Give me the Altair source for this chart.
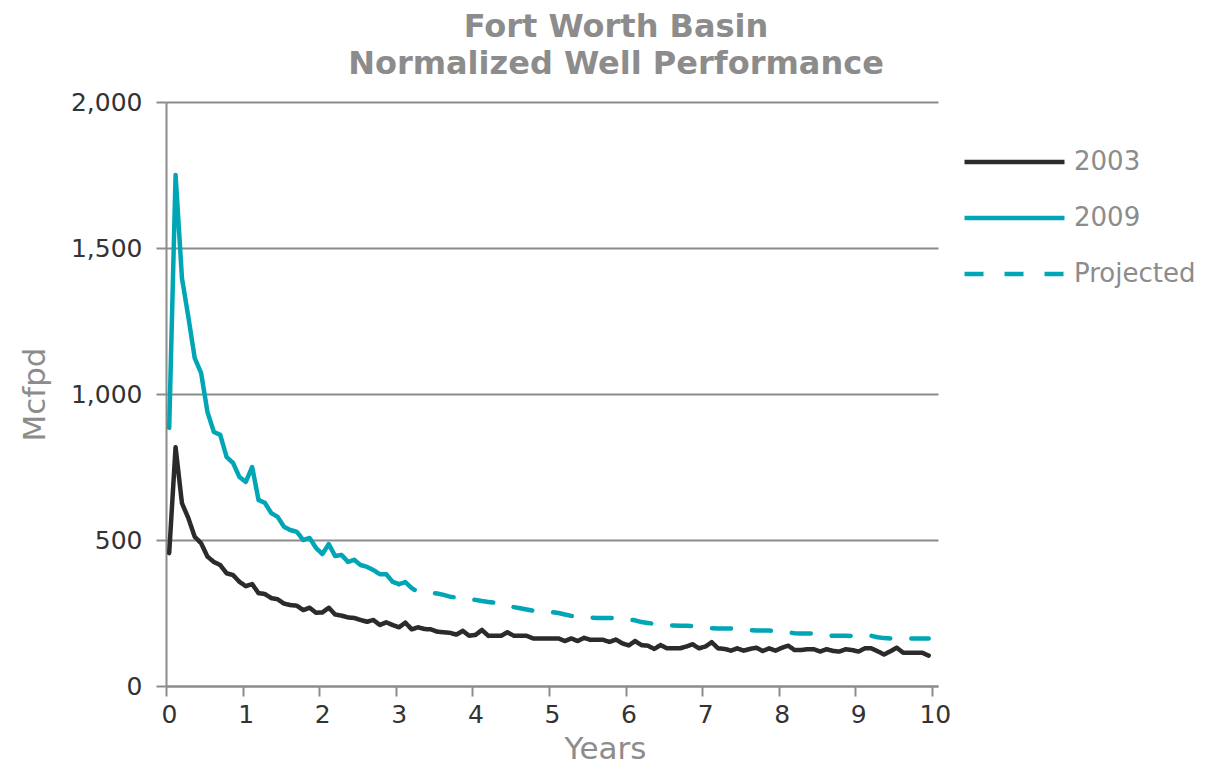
import altair as alt
import pandas as pd

# Monthly normalized production (Mcfpd), month k plotted at (k - 0.5) / 12 years
well_2003 = [
    455, 818, 626, 575, 511, 489, 443, 425, 414, 386, 380, 357,
    342, 349, 318, 315, 301, 297, 282, 277, 275, 260, 268, 251,
    252, 268, 245, 241, 235, 233, 226, 220, 226, 209, 218, 209,
    201, 217, 194, 201, 195, 194, 186, 184, 182, 176, 189, 172,
    175, 192, 172, 172, 172, 184, 172, 172, 172, 163, 163, 163,
    163, 163, 154, 163, 154, 165, 158, 158, 158, 151, 159, 146,
    139, 154, 140, 138, 127, 140, 129, 129, 129, 135, 143, 129,
    135, 150, 129, 127, 121, 129, 121, 127, 131, 120, 129, 121,
    131, 138, 123, 123, 126, 126, 118, 126, 120, 118, 126, 123,
    118, 129, 129, 119, 108, 119, 131, 114, 114, 114, 114, 104,
]

well_2009 = [
    884, 1750, 1397, 1264, 1123, 1072, 938, 870, 860, 784, 764, 716,
    699, 750, 637, 627, 592, 579, 545, 534, 528, 500, 507, 473,
    452, 486, 445, 449, 425, 432, 414, 408, 397, 383, 383, 357,
    349,
]

# Projected 2009 curve, months 37 .. 120
projected_2009 = [
    349, 356, 335, 322, 318, 318, 317, 312, 306, 303, 300, 298,
    295, 291, 288, 285, 283, 279, 270, 266, 262, 258, 256, 255,
    253, 250, 245, 240, 238, 236, 234, 233, 233, 233, 232, 230,
    227, 225, 219, 216, 213, 210, 208, 207, 206, 206, 205, 203,
    200, 198, 197, 197, 197, 195, 193, 191, 190, 190, 190, 188,
    186, 183, 181, 180, 180, 179, 177, 174, 172, 172, 172, 171,
    174, 174, 172, 167, 164, 163, 163, 163, 163, 163, 163, 163,
]

series_names = ["2003", "2009", "Projected"]
series_colors = ["#2b2b2b", "#00a6b5", "#00a6b5"]
series_dashes = [[1, 0], [1, 0], [19, 21]]
x_ticks = [0, 1, 2, 3, 4, 5, 6, 7, 8, 9, 10]
y_ticks = [0, 500, 1000, 1500, 2000]

rows = []
for i, v in enumerate(well_2003):
    rows.append({"series": "2003", "years": (i + 0.5) / 12, "mcfpd": v})
for i, v in enumerate(well_2009):
    rows.append({"series": "2009", "years": (i + 0.5) / 12, "mcfpd": v})
for i, v in enumerate(projected_2009):
    rows.append({"series": "Projected", "years": (i + 36 + 0.5) / 12, "mcfpd": v})
df = pd.DataFrame(rows)

FONT = "DejaVu Sans"
GRAY = "#8c8c8c"

legend = alt.Legend(
    title=None,
    orient="none",
    legendX=796,
    legendY=45,
    symbolType="stroke",
    symbolSize=10000,
    symbolStrokeWidth=4.5,
    clipHeight=30,
    rowPadding=26,
    labelFont=FONT,
    labelFontSize=26,
    labelColor=GRAY,
    labelOffset=7,
    padding=0,
)

chart = (
    alt.Chart(df)
    .mark_line(strokeWidth=4.5, strokeCap="round", strokeJoin="round")
    .encode(
        x=alt.X(
            "years:Q",
            scale=alt.Scale(domain=[0, 10.08], nice=False, zero=False),
            axis=alt.Axis(
                values=x_ticks,
                title="Years",
                grid=False,
                labelFlush=False,
                labelOffset=3,
                labelPadding=6,
                titleX=439,
                titleY=72,
                titleAlign="center",
                titleBaseline="alphabetic",
            ),
        ),
        y=alt.Y(
            "mcfpd:Q",
            scale=alt.Scale(domain=[0, 2000], nice=False),
            axis=alt.Axis(
                values=y_ticks,
                format=",.0f",
                title="Mcfpd",
                grid=True,
                labelPadding=14,
                titleX=-131,
                titleY=292,
                titleAngle=-90,
                titleAlign="center",
                titleBaseline="middle",
            ),
        ),
        color=alt.Color(
            "series:N",
            scale=alt.Scale(domain=series_names, range=series_colors),
            legend=legend,
        ),
        strokeDash=alt.StrokeDash(
            "series:N",
            scale=alt.Scale(domain=series_names, range=series_dashes),
            legend=legend,
        ),
    )
    .properties(
        width=772,
        height=584,
        autosize=alt.AutoSizeParams(type="none"),
        padding={"left": 158, "top": 94, "right": 286, "bottom": 82},
        title=alt.Title(
            ["Fort Worth Basin", "Normalized Well Performance"],
            font=FONT,
            fontSize=32,
            fontWeight="bold",
            color=GRAY,
            anchor="middle",
            dx=64,
            offset=9,
            lineHeight=37,
        ),
    )
    .configure_view(stroke=None)
    .configure_axis(
        domainColor=GRAY,
        domainWidth=2,
        tickColor=GRAY,
        tickWidth=2,
        tickSize=10,
        gridColor=GRAY,
        gridWidth=2,
        labelFont=FONT,
        labelFontSize=25,
        labelColor="#333333",
        titleFont=FONT,
        titleFontSize=31,
        titleFontWeight="normal",
        titleColor=GRAY,
    )
)

chart.save("out.html", embed_options={"renderer": "svg", "actions": False})
